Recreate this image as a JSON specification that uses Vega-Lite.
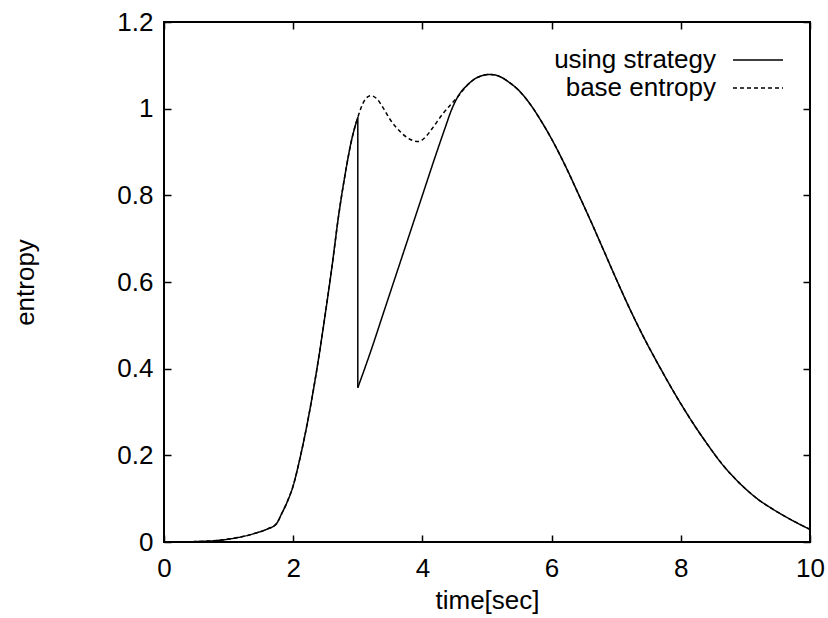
{
  "$schema": "https://vega.github.io/schema/vega-lite/v6.json",
  "width": 646,
  "height": 520,
  "autosize": "none",
  "padding": {"left": 164, "top": 22, "right": 18, "bottom": 76},
  "background": "white",
  "config": {
    "font": "Liberation Sans",
    "view": {"stroke": "black", "strokeWidth": 2},
    "axis": {
      "domain": false,
      "grid": false,
      "ticks": true,
      "tickSize": -7,
      "tickWidth": 1.5,
      "tickColor": "black",
      "labelColor": "black",
      "labelFlush": false,
      "labelFont": "Liberation Sans",
      "labelFontSize": 26,
      "titleFont": "Liberation Sans",
      "titleFontSize": 26,
      "titleFontWeight": "normal",
      "titleColor": "black"
    },
    "legend": {
      "labelFont": "Liberation Sans",
      "labelFontSize": 26,
      "labelColor": "black",
      "labelLimit": 400
    }
  },
  "data": {
    "values": [
      {"series": "base entropy", "segment": "b", "t": 0, "entropy": 0},
      {"series": "base entropy", "segment": "b", "t": 0.5, "entropy": 0.001},
      {"series": "base entropy", "segment": "b", "t": 0.97, "entropy": 0.006},
      {"series": "base entropy", "segment": "b", "t": 1.2, "entropy": 0.012},
      {"series": "base entropy", "segment": "b", "t": 1.43, "entropy": 0.021},
      {"series": "base entropy", "segment": "b", "t": 1.6, "entropy": 0.03},
      {"series": "base entropy", "segment": "b", "t": 1.74, "entropy": 0.042},
      {"series": "base entropy", "segment": "b", "t": 1.82, "entropy": 0.065},
      {"series": "base entropy", "segment": "b", "t": 1.9, "entropy": 0.09},
      {"series": "base entropy", "segment": "b", "t": 2.0, "entropy": 0.13},
      {"series": "base entropy", "segment": "b", "t": 2.1, "entropy": 0.19},
      {"series": "base entropy", "segment": "b", "t": 2.2, "entropy": 0.26},
      {"series": "base entropy", "segment": "b", "t": 2.3, "entropy": 0.34},
      {"series": "base entropy", "segment": "b", "t": 2.4, "entropy": 0.43},
      {"series": "base entropy", "segment": "b", "t": 2.5, "entropy": 0.53},
      {"series": "base entropy", "segment": "b", "t": 2.6, "entropy": 0.635},
      {"series": "base entropy", "segment": "b", "t": 2.7, "entropy": 0.75},
      {"series": "base entropy", "segment": "b", "t": 2.8, "entropy": 0.845},
      {"series": "base entropy", "segment": "b", "t": 2.9, "entropy": 0.925},
      {"series": "base entropy", "segment": "b", "t": 3.0, "entropy": 0.98},
      {"series": "base entropy", "segment": "b", "t": 3.1, "entropy": 1.018},
      {"series": "base entropy", "segment": "b", "t": 3.2, "entropy": 1.03},
      {"series": "base entropy", "segment": "b", "t": 3.3, "entropy": 1.022},
      {"series": "base entropy", "segment": "b", "t": 3.4, "entropy": 1.0},
      {"series": "base entropy", "segment": "b", "t": 3.5, "entropy": 0.975},
      {"series": "base entropy", "segment": "b", "t": 3.65, "entropy": 0.948},
      {"series": "base entropy", "segment": "b", "t": 3.8, "entropy": 0.93},
      {"series": "base entropy", "segment": "b", "t": 3.94, "entropy": 0.924},
      {"series": "base entropy", "segment": "b", "t": 4.05, "entropy": 0.935},
      {"series": "base entropy", "segment": "b", "t": 4.17, "entropy": 0.958},
      {"series": "base entropy", "segment": "b", "t": 4.3, "entropy": 0.985},
      {"series": "base entropy", "segment": "b", "t": 4.43, "entropy": 1.008},
      {"series": "base entropy", "segment": "b", "t": 4.55, "entropy": 1.028},
      {"series": "base entropy", "segment": "b", "t": 4.7, "entropy": 1.055},
      {"series": "base entropy", "segment": "b", "t": 4.85, "entropy": 1.072},
      {"series": "base entropy", "segment": "b", "t": 5.05, "entropy": 1.079},
      {"series": "base entropy", "segment": "b", "t": 5.2, "entropy": 1.074},
      {"series": "base entropy", "segment": "b", "t": 5.35, "entropy": 1.06},
      {"series": "base entropy", "segment": "b", "t": 5.48, "entropy": 1.044},
      {"series": "base entropy", "segment": "b", "t": 5.67, "entropy": 1.01},
      {"series": "base entropy", "segment": "b", "t": 5.82, "entropy": 0.976},
      {"series": "base entropy", "segment": "b", "t": 6.0, "entropy": 0.93},
      {"series": "base entropy", "segment": "b", "t": 6.2, "entropy": 0.872},
      {"series": "base entropy", "segment": "b", "t": 6.44, "entropy": 0.795},
      {"series": "base entropy", "segment": "b", "t": 6.65, "entropy": 0.726},
      {"series": "base entropy", "segment": "b", "t": 6.8, "entropy": 0.675},
      {"series": "base entropy", "segment": "b", "t": 7.0, "entropy": 0.607},
      {"series": "base entropy", "segment": "b", "t": 7.16, "entropy": 0.554},
      {"series": "base entropy", "segment": "b", "t": 7.4, "entropy": 0.48},
      {"series": "base entropy", "segment": "b", "t": 7.68, "entropy": 0.402},
      {"series": "base entropy", "segment": "b", "t": 7.94, "entropy": 0.334},
      {"series": "base entropy", "segment": "b", "t": 8.19, "entropy": 0.274},
      {"series": "base entropy", "segment": "b", "t": 8.4, "entropy": 0.228},
      {"series": "base entropy", "segment": "b", "t": 8.66, "entropy": 0.176},
      {"series": "base entropy", "segment": "b", "t": 8.81, "entropy": 0.151},
      {"series": "base entropy", "segment": "b", "t": 9.0, "entropy": 0.123},
      {"series": "base entropy", "segment": "b", "t": 9.2, "entropy": 0.098},
      {"series": "base entropy", "segment": "b", "t": 9.4, "entropy": 0.078},
      {"series": "base entropy", "segment": "b", "t": 9.59, "entropy": 0.061},
      {"series": "base entropy", "segment": "b", "t": 9.8, "entropy": 0.044},
      {"series": "base entropy", "segment": "b", "t": 10, "entropy": 0.029},
      {"series": "using strategy", "segment": "s1", "t": 0, "entropy": 0},
      {"series": "using strategy", "segment": "s1", "t": 0.5, "entropy": 0.001},
      {"series": "using strategy", "segment": "s1", "t": 0.97, "entropy": 0.006},
      {"series": "using strategy", "segment": "s1", "t": 1.2, "entropy": 0.012},
      {"series": "using strategy", "segment": "s1", "t": 1.43, "entropy": 0.021},
      {"series": "using strategy", "segment": "s1", "t": 1.6, "entropy": 0.03},
      {"series": "using strategy", "segment": "s1", "t": 1.74, "entropy": 0.042},
      {"series": "using strategy", "segment": "s1", "t": 1.82, "entropy": 0.065},
      {"series": "using strategy", "segment": "s1", "t": 1.9, "entropy": 0.09},
      {"series": "using strategy", "segment": "s1", "t": 2.0, "entropy": 0.13},
      {"series": "using strategy", "segment": "s1", "t": 2.1, "entropy": 0.19},
      {"series": "using strategy", "segment": "s1", "t": 2.2, "entropy": 0.26},
      {"series": "using strategy", "segment": "s1", "t": 2.3, "entropy": 0.34},
      {"series": "using strategy", "segment": "s1", "t": 2.4, "entropy": 0.43},
      {"series": "using strategy", "segment": "s1", "t": 2.5, "entropy": 0.53},
      {"series": "using strategy", "segment": "s1", "t": 2.6, "entropy": 0.635},
      {"series": "using strategy", "segment": "s1", "t": 2.7, "entropy": 0.75},
      {"series": "using strategy", "segment": "s1", "t": 2.8, "entropy": 0.845},
      {"series": "using strategy", "segment": "s1", "t": 2.9, "entropy": 0.925},
      {"series": "using strategy", "segment": "s1", "t": 3.0, "entropy": 0.98},
      {"series": "using strategy", "segment": "s2", "t": 3.0, "entropy": 0.98},
      {"series": "using strategy", "segment": "s2", "t": 3.0, "entropy": 0.356},
      {"series": "using strategy", "segment": "s3", "t": 3.0, "entropy": 0.356},
      {"series": "using strategy", "segment": "s3", "t": 3.2, "entropy": 0.44},
      {"series": "using strategy", "segment": "s3", "t": 3.4, "entropy": 0.53},
      {"series": "using strategy", "segment": "s3", "t": 3.6, "entropy": 0.62},
      {"series": "using strategy", "segment": "s3", "t": 3.8, "entropy": 0.71},
      {"series": "using strategy", "segment": "s3", "t": 4.0, "entropy": 0.8},
      {"series": "using strategy", "segment": "s3", "t": 4.2, "entropy": 0.89},
      {"series": "using strategy", "segment": "s3", "t": 4.35, "entropy": 0.955},
      {"series": "using strategy", "segment": "s3", "t": 4.45, "entropy": 0.997},
      {"series": "using strategy", "segment": "s3", "t": 4.55, "entropy": 1.028},
      {"series": "using strategy", "segment": "s3", "t": 4.7, "entropy": 1.055},
      {"series": "using strategy", "segment": "s3", "t": 4.85, "entropy": 1.072},
      {"series": "using strategy", "segment": "s3", "t": 5.05, "entropy": 1.079},
      {"series": "using strategy", "segment": "s3", "t": 5.2, "entropy": 1.074},
      {"series": "using strategy", "segment": "s3", "t": 5.35, "entropy": 1.06},
      {"series": "using strategy", "segment": "s3", "t": 5.48, "entropy": 1.044},
      {"series": "using strategy", "segment": "s3", "t": 5.67, "entropy": 1.01},
      {"series": "using strategy", "segment": "s3", "t": 5.82, "entropy": 0.976},
      {"series": "using strategy", "segment": "s3", "t": 6.0, "entropy": 0.93},
      {"series": "using strategy", "segment": "s3", "t": 6.2, "entropy": 0.872},
      {"series": "using strategy", "segment": "s3", "t": 6.44, "entropy": 0.795},
      {"series": "using strategy", "segment": "s3", "t": 6.65, "entropy": 0.726},
      {"series": "using strategy", "segment": "s3", "t": 6.8, "entropy": 0.675},
      {"series": "using strategy", "segment": "s3", "t": 7.0, "entropy": 0.607},
      {"series": "using strategy", "segment": "s3", "t": 7.16, "entropy": 0.554},
      {"series": "using strategy", "segment": "s3", "t": 7.4, "entropy": 0.48},
      {"series": "using strategy", "segment": "s3", "t": 7.68, "entropy": 0.402},
      {"series": "using strategy", "segment": "s3", "t": 7.94, "entropy": 0.334},
      {"series": "using strategy", "segment": "s3", "t": 8.19, "entropy": 0.274},
      {"series": "using strategy", "segment": "s3", "t": 8.4, "entropy": 0.228},
      {"series": "using strategy", "segment": "s3", "t": 8.66, "entropy": 0.176},
      {"series": "using strategy", "segment": "s3", "t": 8.81, "entropy": 0.151},
      {"series": "using strategy", "segment": "s3", "t": 9.0, "entropy": 0.123},
      {"series": "using strategy", "segment": "s3", "t": 9.2, "entropy": 0.098},
      {"series": "using strategy", "segment": "s3", "t": 9.4, "entropy": 0.078},
      {"series": "using strategy", "segment": "s3", "t": 9.59, "entropy": 0.061},
      {"series": "using strategy", "segment": "s3", "t": 9.8, "entropy": 0.044},
      {"series": "using strategy", "segment": "s3", "t": 10, "entropy": 0.029}
    ]
  },
  "layer": [
    {
      "mark": {"type": "line", "opacity": 0},
      "encoding": {
        "x": {
          "field": "t",
          "type": "quantitative",
          "scale": {"domain": [0, 10], "nice": false, "zero": false},
          "axis": {"orient": "top", "values": [0, 2, 4, 6, 8, 10], "labels": false, "title": null}
        },
        "y": {
          "field": "entropy",
          "type": "quantitative",
          "scale": {"domain": [0, 1.2], "nice": false},
          "axis": {"orient": "right", "values": [0, 0.2, 0.4, 0.6, 0.8, 1, 1.2], "labels": false, "title": null}
        },
        "detail": {"field": "segment", "type": "nominal"},
        "order": {"value": null}
      }
    },
    {
      "mark": {"type": "line", "color": "black", "strokeWidth": 1.5, "interpolate": "monotone"},
      "encoding": {
        "x": {
          "field": "t",
          "type": "quantitative",
          "scale": {"domain": [0, 10], "nice": false, "zero": false},
          "axis": {
            "orient": "bottom",
            "values": [0, 2, 4, 6, 8, 10],
            "format": "~r",
            "labelPadding": 20,
            "title": "time[sec]",
            "titleBaseline": "alphabetic",
            "titleY": 66
          }
        },
        "y": {
          "field": "entropy",
          "type": "quantitative",
          "scale": {"domain": [0, 1.2], "nice": false},
          "axis": {
            "orient": "left",
            "values": [0, 0.2, 0.4, 0.6, 0.8, 1, 1.2],
            "format": "~r",
            "labelPadding": 18,
            "title": "entropy",
            "titleAngle": -90,
            "titleAlign": "center",
            "titleBaseline": "middle",
            "titleX": -139,
            "titleY": 260
          }
        },
        "detail": {"field": "segment", "type": "nominal"},
        "strokeDash": {
          "field": "series",
          "type": "nominal",
          "scale": {"domain": ["using strategy", "base entropy"], "range": [[1, 0], [4, 3]]},
          "legend": {
            "title": null,
            "orient": "none",
            "legendX": 581,
            "legendY": 25,
            "symbolType": "M-2.5,0H2.5",
            "symbolSize": 400,
            "symbolStrokeWidth": 1.5,
            "symbolStrokeColor": "black",
            "labelAlign": "right",
            "labelOffset": -55,
            "rowPadding": 2
          }
        },
        "order": {"value": null}
      }
    }
  ],
  "resolve": {"axis": {"x": "independent", "y": "independent"}}
}
